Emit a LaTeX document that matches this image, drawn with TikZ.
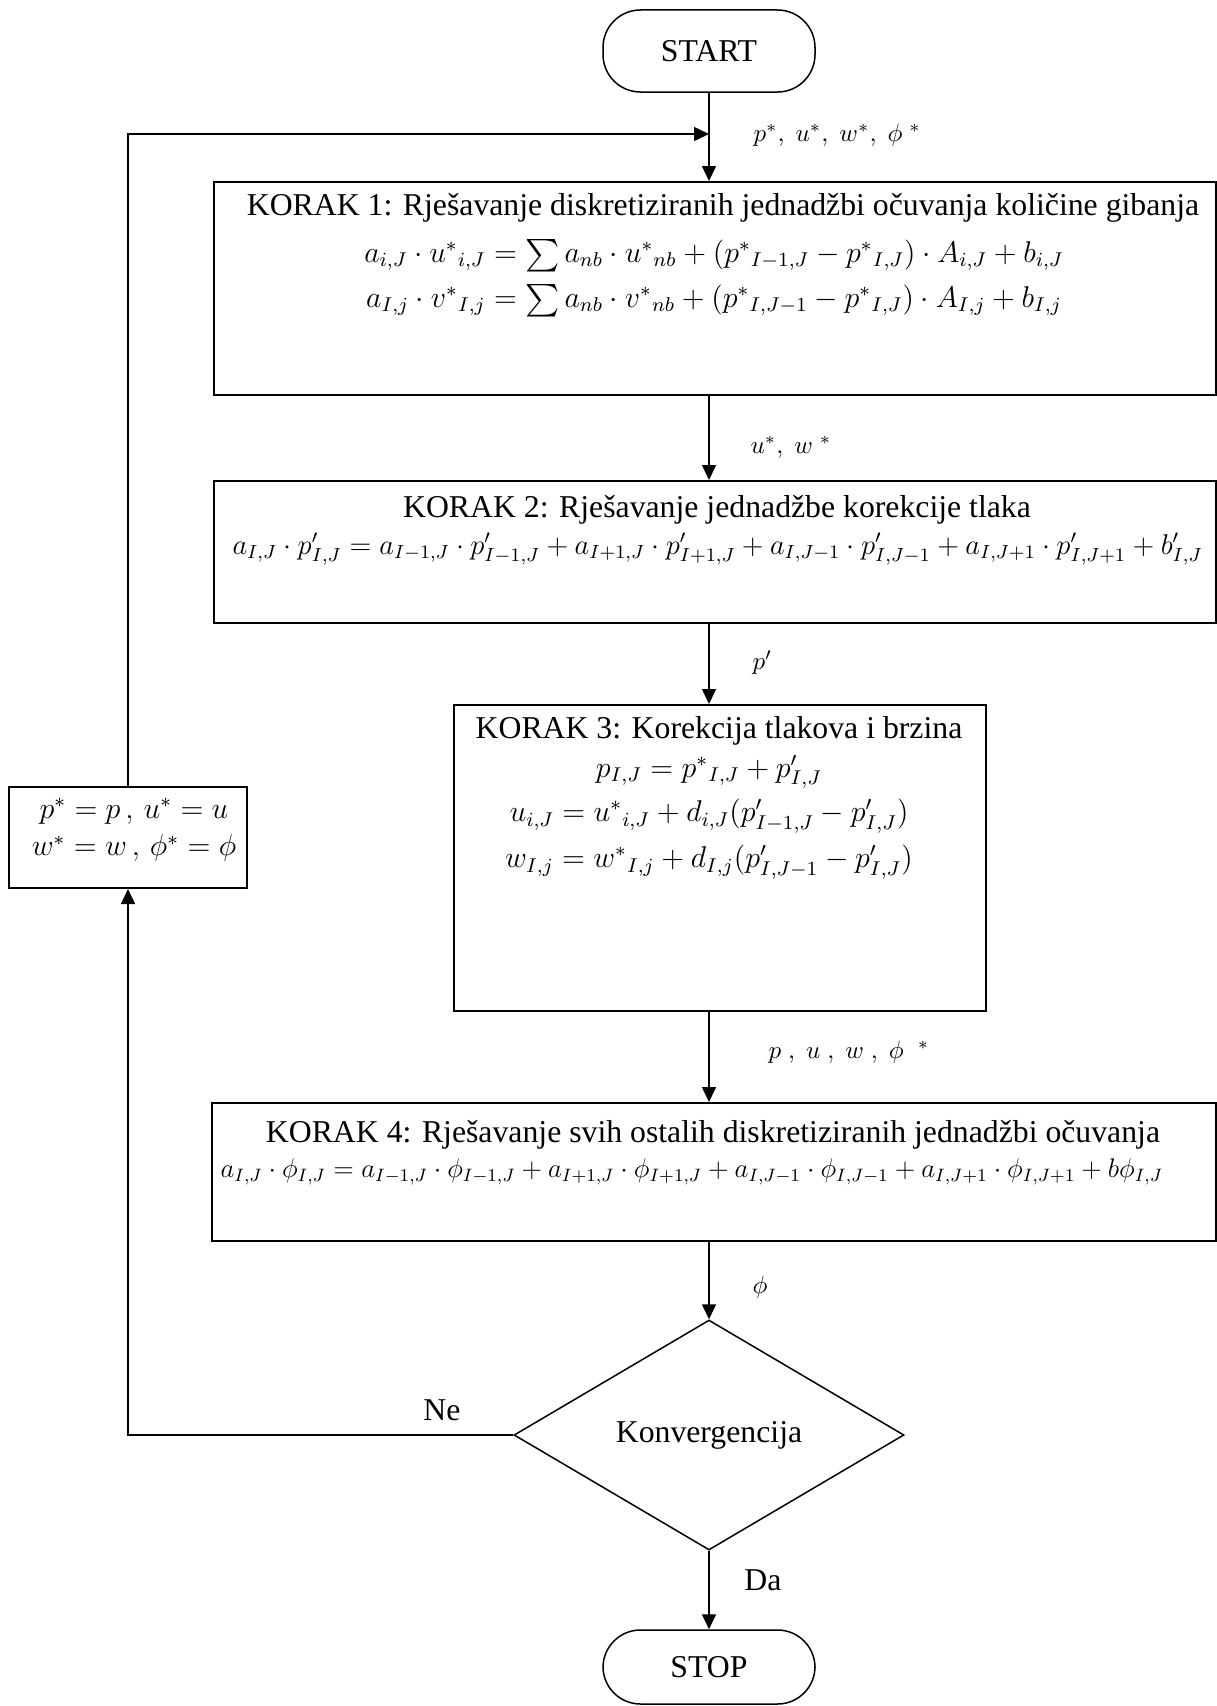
\documentclass[tikz,border=0pt]{standalone}
\usepackage{graphicx}
\usepackage{fontspec}
\setmainfont{Liberation Serif}
\usetikzlibrary{arrows.meta,positioning,shapes.geometric}
\newcommand{\bigsum}{\mathop{\raisebox{-0.25ex}{\scalebox{1.3}{$\sum$}}}}

\begin{document}
\begin{tikzpicture}[x=0.4pt,y=-0.4pt,
    box/.style={draw,line width=0.8pt,anchor=north west,inner sep=0pt},
    txt/.style={inner sep=0pt,font=\fontsize{12.7}{14}\selectfont},
    eqn/.style={inner sep=0pt,font=\fontsize{12}{14}\selectfont},
    lab/.style={inner sep=0pt,anchor=west,font=\fontsize{10}{12}\selectfont},
    term/.style={draw,line width=0.6pt,rounded corners=15pt,minimum width=84.8pt,font=\fontsize{12.7}{14}\selectfont},
    flow/.style={line width=0.6pt,-{Triangle[length=6pt,width=5.6pt]}}]
  \useasboundingbox (0,0) rectangle (1217,1706);

  \node[term,minimum height=32.8pt] (start) at (709,51) {START};
  \node[term,minimum height=29.6pt] (stop) at (709,1667) {STOP};
  \node[draw,diamond,aspect=1.7,minimum width=156pt,minimum height=92pt,inner sep=0pt,line width=0.6pt,font=\fontsize{12.7}{14}\selectfont] (conv) at (709,1435) {Konvergencija};

  % korak boxes
  \node[box,minimum width=400.8pt,minimum height=85.2pt] (k1) at (213,181) {};
  \node[box,minimum width=400.8pt,minimum height=56.8pt] (k2) at (213,480) {};
  \node[box,minimum width=212.8pt,minimum height=122.4pt] (k3) at (453,704) {};
  \node[box,minimum width=401.6pt,minimum height=55.2pt] (k4) at (211,1102) {};
  \node[box,minimum width=95.2pt,minimum height=40.4pt] (fb) at (8,786) {};

  \node[eqn,align=center] (fbt) at (134,830)
    {$p^{*} = p\,,\,u^{*} = u$\\[1pt] $w^{*} = w\,,\,\phi^{*} = \phi$};

  \node[txt] (t1) at (723,208) {KORAK 1: Rješavanje diskretiziranih jednadžbi očuvanja količine gibanja};
  \node[eqn] (e1a) at (714,256) {$a_{i,J}\cdot u^{*}{}_{i,J} = \bigsum a_{nb}\cdot u^{*}{}_{nb} + \bigl(p^{*}{}_{I-1,J} - p^{*}{}_{I,J}\bigr)\cdot A_{i,J} + b_{i,J}$};
  \node[eqn] (e1b) at (714,301) {$a_{I,j}\cdot v^{*}{}_{I,j} = \bigsum a_{nb}\cdot v^{*}{}_{nb} + \bigl(p^{*}{}_{I,J-1} - p^{*}{}_{I,J}\bigr)\cdot A_{I,j} + b_{I,j}$};

  \node[txt] (t2) at (717,510) {KORAK 2: Rješavanje jednadžbe korekcije tlaka};
  \node[eqn,anchor=west] (e2) at (232,549) {\resizebox{388pt}{!}{$a_{I,J}\cdot p'_{I,J} = a_{I-1,J}\cdot p'_{I-1,J} + a_{I+1,J}\cdot p'_{I+1,J} + a_{I,J-1}\cdot p'_{I,J-1} + a_{I,J+1}\cdot p'_{I,J+1} + b'_{I,J}$}};

  \node[txt] (t3) at (719,731) {KORAK 3: Korekcija tlakova i brzina};
  \node[eqn] (e3a) at (709,772) {$p_{I,J} = p^{*}{}_{I,J} + p'_{I,J}$};
  \node[eqn] (e3b) at (709,816) {$u_{i,J} = u^{*}{}_{i,J} + d_{i,J}\bigl(p'_{I-1,J} - p'_{I,J}\bigr)$};
  \node[eqn] (e3c) at (709,862) {$w_{I,j} = w^{*}{}_{I,j} + d_{I,j}\bigl(p'_{I,J-1} - p'_{I,J}\bigr)$};

  \node[txt] (t4) at (713,1135) {KORAK 4: Rješavanje svih ostalih diskretiziranih jednadžbi očuvanja};
  \node[eqn,anchor=west] (e4) at (220,1172) {\resizebox{377pt}{!}{$a_{I,J}\cdot\phi_{I,J} = a_{I-1,J}\cdot\phi_{I-1,J} + a_{I+1,J}\cdot\phi_{I+1,J} + a_{I,J-1}\cdot\phi_{I,J-1} + a_{I,J+1}\cdot\phi_{I,J+1} + b\phi_{I,J}$}};

  % labels on the flow
  \node[lab] (l1) at (753,135) {$p^{*},\;u^{*},\;w^{*},\;\phi\;^{*}$};
  \node[lab] (l2) at (750,447) {$u^{*},\;w\;^{*}$};
  \node[lab] (l3) at (752,663) {$p'$};
  \node[lab] (l4) at (768,1052) {$p\;,\;u\;,\;w\;,\;\phi\;\;{}^{*}$};
  \node[lab] (l5) at (752,1287) {$\phi$};
  \node[txt] (ne) at (442,1410) {Ne};
  \node[txt] (da) at (763,1580) {Da};

  \coordinate (merge) at (709,134);
  \draw[flow] (start.south) -- (start.south |- k1.north);
  \foreach \a/\b in {k1/k2,k2/k3,k3/k4}
    \draw[flow] (start.south |- \a.south) -- (start.south |- \b.north);
  \draw[flow] (start.south |- k4.south) -- (conv.north);
  \draw[flow] (conv.south) -- (stop.north);
  \draw[flow] (conv.west) -| (fb.south);
  \draw[flow] (fb.north) |- (merge);
\end{tikzpicture}
\end{document}
